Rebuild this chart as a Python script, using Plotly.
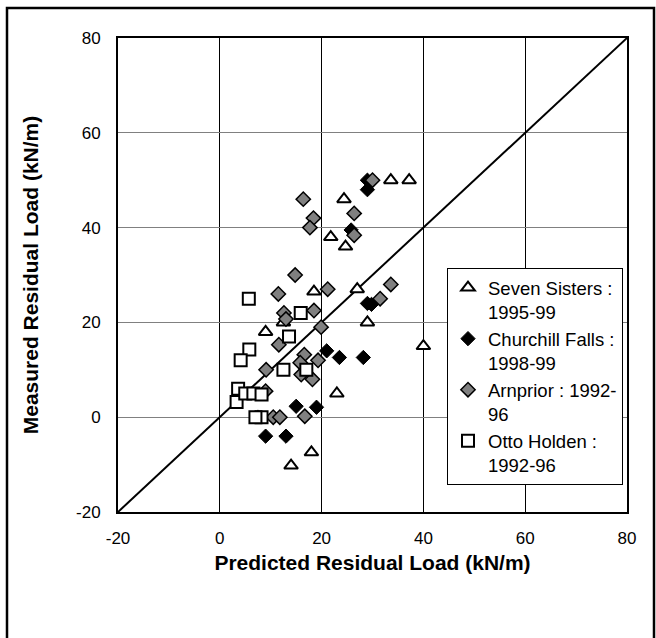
import plotly.graph_objects as go

# ---- data ----
line_x = [-20, 80]
line_y = [-20, 80]

seven_x = [33.6, 37.2, 24.4, 21.8, 24.7, 18.5, 27.0, 29.0, 9.0, 12.5, 40.0, 23.0, 14.0, 18.0, 7.5]
seven_y = [50.0, 50.0, 46.0, 38.0, 36.0, 26.5, 27.0, 20.0, 18.0, 20.0, 15.0, 5.0, -10.2, -7.4, 0.0]

church_x = [29.0, 29.0, 25.8, 29.0, 29.8, 21.0, 23.5, 28.2, 15.0, 19.0, 9.0, 13.0]
church_y = [50.0, 48.0, 39.5, 24.0, 23.8, 14.0, 12.6, 12.6, 2.3, 2.1, -4.0, -4.0]

arn_x = [30.0, 16.4, 26.4, 18.4, 17.7, 26.4, 14.8, 11.5, 21.2, 33.6, 31.5, 18.5, 12.6,
         13.0, 19.9, 11.6, 16.6, 19.3, 15.8, 9.1, 16.0, 18.2, 9.0, 10.5, 11.8, 16.7]
arn_y = [50.0, 46.0, 43.0, 42.0, 40.0, 38.4, 30.0, 26.0, 27.0, 28.0, 25.0, 22.5, 22.0,
         20.7, 19.0, 15.3, 13.2, 12.0, 11.5, 10.0, 9.0, 8.0, 5.5, 0.0, 0.0, 0.2]

otto_x = [5.7, 15.9, 13.6, 5.8, 4.1, 12.5, 17.0, 3.6, 3.3, 5.0, 6.6, 8.2, 8.2, 7.0]
otto_y = [25.0, 22.0, 17.0, 14.3, 12.0, 10.0, 10.0, 6.0, 3.2, 5.0, 5.0, 4.8, 0.0, 0.0]

x_ticks = [-20, 0, 20, 40, 60, 80]
y_ticks = [-20, 0, 20, 40, 60, 80]

FONT = "Arial, Liberation Sans, sans-serif"

fig = go.Figure()
fig.add_trace(go.Scatter(x=line_x, y=line_y, mode="lines",
                         line=dict(color="black", width=2),
                         showlegend=False, hoverinfo="skip"))
fig.add_trace(go.Scatter(x=seven_x, y=seven_y, mode="markers",
                         name="Seven Sisters :<br>1995-99",
                         marker=dict(symbol="triangle-up", size=12, color="white",
                                     line=dict(color="black", width=2))))
fig.add_trace(go.Scatter(x=church_x, y=church_y, mode="markers",
                         name="Churchill Falls :<br>1998-99",
                         marker=dict(symbol="diamond", size=11, color="black",
                                     line=dict(color="black", width=1))))
fig.add_trace(go.Scatter(x=arn_x, y=arn_y, mode="markers",
                         name="Arnprior : 1992-<br>96",
                         marker=dict(symbol="diamond", size=11, color="#808080",
                                     line=dict(color="black", width=1.5))))
fig.add_trace(go.Scatter(x=otto_x, y=otto_y, mode="markers",
                         name="Otto Holden :<br>1992-96",
                         marker=dict(symbol="square", size=12, color="white",
                                     line=dict(color="black", width=2))))

L, R, T, B = 118, 29, 38, 126
W, H = 656, 638
pw = W - L - R
ph = H - T - B

def px_x(p):
    return (p - L) / pw

def px_y(p):
    return (H - B - p) / ph

fig.update_layout(
    width=W, height=H,
    margin=dict(l=L, r=R, t=T, b=B, pad=0),
    paper_bgcolor="white", plot_bgcolor="white",
    font=dict(family=FONT, size=17, color="black"),
    showlegend=True,
    legend=dict(x=px_x(447), y=px_y(268), xanchor="left", yanchor="top",
                bgcolor="white", bordercolor="black", borderwidth=1,
                font=dict(family=FONT, size=18.5, color="black"),
                valign="top", itemwidth=30, tracegroupgap=0),
    xaxis=dict(range=[-20, 80], tickvals=x_ticks, ticktext=[str(v) for v in x_ticks],
               showgrid=True, gridcolor="black", gridwidth=1,
               zeroline=False, showline=True, linecolor="black", linewidth=2, mirror=True,
               ticks="", ticklabelstandoff=10,
               title=dict(text="<b>Predicted Residual Load (kN/m)</b>",
                          font=dict(family=FONT, size=21), standoff=8)),
    yaxis=dict(range=[-20, 80], tickvals=y_ticks, ticktext=[str(v) for v in y_ticks],
               showgrid=True, gridcolor="#808080", gridwidth=1,
               zeroline=False, showline=True, linecolor="black", linewidth=2, mirror=True,
               ticks="", ticklabelstandoff=12,
               title=dict(text="<b>Measured Residual Load (kN/m)</b>",
                          font=dict(family=FONT, size=21), standoff=32)),
    shapes=[dict(type="rect", xref="paper", yref="paper",
                 x0=px_x(7), x1=px_x(654), y0=px_y(660), y1=px_y(8),
                 line=dict(color="black", width=2.5), fillcolor="rgba(0,0,0,0)",
                 layer="above")],
)

fig.write_html("out.html", config={"displayModeBar": False},
               post_script="document.body.style.margin='0';")
